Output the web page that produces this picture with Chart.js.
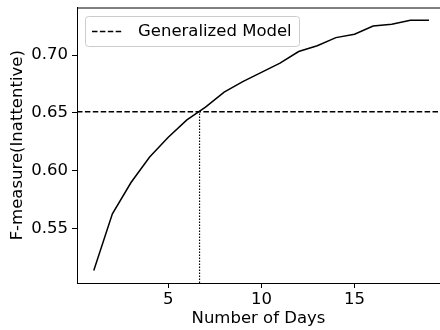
<!DOCTYPE html>
<html>
<head>
<meta charset="utf-8">
<style>
  html,body{margin:0;padding:0;background:#fff;}
  #wrap{width:440px;height:330px;}
</style>
<script src="https://cdn.jsdelivr.net/npm/chart.js@4/dist/chart.umd.min.js"></script>
</head>
<body>
<div id="wrap"><canvas id="c" width="440" height="330"></canvas></div>
<script>
// 資料
const days = [1,2,3,4,5,6,7,8,9,10,11,12,13,14,15,16,17,18,19];
const fScores = [0.514,0.563,0.590,0.612,0.629,0.644,0.655,0.668,0.677,0.685,0.693,0.703,0.708,0.715,0.718,0.725,0.7265,0.730,0.730];
const generalizedScore = 0.651;
const crossDay = 6.68;
const xTicks = [5,10,15];
const yTicks = [0.55,0.60,0.65,0.70];
const xMin = 0.1, xMax = 19.59, yMin = 0.5033, yMax = 0.741;

(function(){
  const FONT = 'DejaVu Sans';
  const FS = 16.5;
  const fontM = {family:FONT,size:FS};

  // 上框線 + 圖例（畫在繪圖區內）
  const frameLegend = {
    id:'frameLegend',
    afterDraw(ch){
      const {ctx, chartArea:a} = ch;
      ctx.save();
      ctx.strokeStyle='#000'; ctx.lineWidth=1;
      ctx.beginPath(); ctx.moveTo(a.left,a.top+0.5); ctx.lineTo(a.right,a.top+0.5); ctx.stroke();

      const ds = ch.data.datasets[1];
      const bx=a.left+8, by=a.top+8.5, bw=214, bh=30, r=3;
      ctx.fillStyle='rgba(255,255,255,0.8)';
      ctx.strokeStyle='#cccccc';
      ctx.beginPath(); ctx.roundRect(bx+0.5,by+0.5,bw,bh,r); ctx.fill(); ctx.stroke();
      const cy = by+bh/2+0.5;
      ctx.strokeStyle=ds.borderColor; ctx.lineWidth=ds.borderWidth; ctx.setLineDash(ds.borderDash);
      ctx.beginPath(); ctx.moveTo(bx+7,cy); ctx.lineTo(bx+38,cy); ctx.stroke();
      ctx.setLineDash([]);
      ctx.fillStyle='#000'; ctx.font=`${FS}px "${FONT}"`; ctx.textBaseline='middle';
      ctx.fillText(ds.label, bx+53, cy);
      ctx.restore();
    }
  };

  new Chart(document.getElementById('c'),{
    type:'line',
    data:{datasets:[
      {label:'F', data:days.map((d,i)=>({x:d,y:fScores[i]})), borderColor:'#000', borderWidth:1.5, pointRadius:0, tension:0},
      {label:'Generalized Model', data:[{x:xMin,y:generalizedScore},{x:xMax,y:generalizedScore}], borderColor:'#000', borderWidth:1.5, borderDash:[5.5,2.4], pointRadius:0},
      {label:'cross', data:[{x:crossDay,y:yMin},{x:crossDay,y:generalizedScore}], borderColor:'#000', borderWidth:1.2, borderDash:[1.5,1.5], pointRadius:0},
    ]},
    options:{
      responsive:false, animation:false, events:[],
      layout:{padding:{top:7.5,left:0,right:0,bottom:0}},
      plugins:{legend:{display:false}, tooltip:{enabled:false}},
      scales:{
        x:{type:'linear', min:xMin, max:xMax,
          afterBuildTicks:s=>{s.ticks=xTicks.map(v=>({value:v}));},
          afterFit:s=>{s.height=47; s.paddingLeft=0; s.paddingRight=0;},
          grid:{drawOnChartArea:false, tickLength:5, color:'#000'},
          border:{color:'#000', width:1},
          ticks:{font:fontM, color:'#000', padding:2, maxRotation:0, callback:v=>String(v)},
          title:{display:true, text:'Number of Days', font:fontM, color:'#000', padding:{top:0,bottom:1}}
        },
        y:{type:'linear', min:yMin, max:yMax,
          afterBuildTicks:s=>{s.ticks=yTicks.map(v=>({value:v}));},
          afterFit:s=>{s.width=77; s.paddingTop=0; s.paddingBottom=0;},
          grid:{drawOnChartArea:false, tickLength:5, color:'#000'},
          border:{color:'#000', width:1},
          ticks:{font:fontM, color:'#000', padding:4, callback:v=>v.toFixed(2)},
          title:{display:true, text:'F-measure(Inattentive)', font:fontM, color:'#000', padding:{top:8,bottom:0}}
        }
      }
    },
    plugins:[frameLegend]
  });
})();
</script>
</body>
</html>
